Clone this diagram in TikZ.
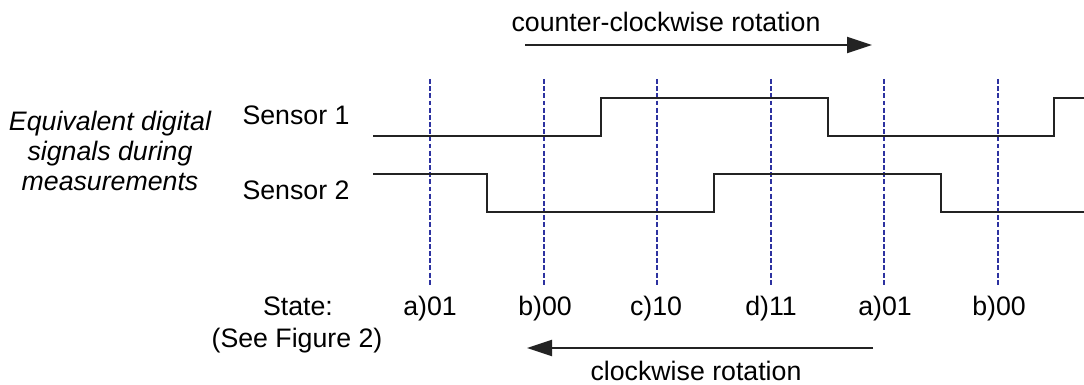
\documentclass[tikz,border=0pt]{standalone}
\usepackage{fontspec}
\setmainfont{Liberation Sans}
\usetikzlibrary{arrows.meta}

\definecolor{instantblue}{RGB}{45,50,160}
\definecolor{sigline}{RGB}{35,35,35}

\begin{document}
\begin{tikzpicture}[x=0.025cm,y=-0.025cm,
  font=\fontsize{19}{22}\selectfont,
  every node/.style={inner sep=1pt},
  signal/.style={line width=1.4pt,sigline},
  instant/.style={line width=1.2pt,instantblue,dash pattern=on 3.5pt off 1.6pt},
  rotarrow/.style={line width=1.3pt,sigline,-{Triangle[length=0.625cm,width=0.4cm]}}]

\useasboundingbox (0,0) rectangle (1084,385);

% Rotation anti-horaire
\node[anchor=base] (ccwlabel) at (666,32) {counter-clockwise rotation};
\coordinate (ccwstart) at (525,45);
\coordinate (ccwend) at (872,45);
\draw[rotarrow] (ccwstart) -- (ccwend);

% Instants de mesure
\foreach \x in {430,544,657,771,884,998}
  \draw[instant] (\x,79) -- (\x,285);

% Legende a gauche
\node[anchor=base,align=center,font=\fontsize{19}{21.5}\selectfont\itshape] (equiv) at (110,191)
{Equivalent digital\\signals during\\measurements};

\node[anchor=base] (sensA) at (296,125) {Sensor 1};
\node[anchor=base] (sensB) at (296,200) {Sensor 2};

% Capteur 1
\draw[signal] (373,136) -- (601,136) -- (601,98) -- (828,98)
  -- (828,136) -- (1054,136) -- (1054,98) -- (1084,98);

% Capteur 2
\draw[signal] (373,174) -- (487,174) -- (487,212) -- (714,212)
  -- (714,174) -- (941,174) -- (941,212) -- (1084,212);

% Etats
\node[anchor=base] (state) at (298,316) {State:};
\node[anchor=base] (seefig) at (297,348) {(See Figure 2)};
\foreach \x/\s [count=\i] in {430/a)01,545/b)00,656/c)10,771/d)11,885/a)01,999/b)00}
  \node[anchor=base] (st\i) at (\x,316) {\s};

% Rotation horaire
\coordinate (cwstart) at (873,348);
\coordinate (cwend) at (527,348);
\draw[rotarrow] (cwstart) -- (cwend);
\node[anchor=base] (cwlabel) at (696,381) {clockwise rotation};

\end{tikzpicture}
\end{document}
